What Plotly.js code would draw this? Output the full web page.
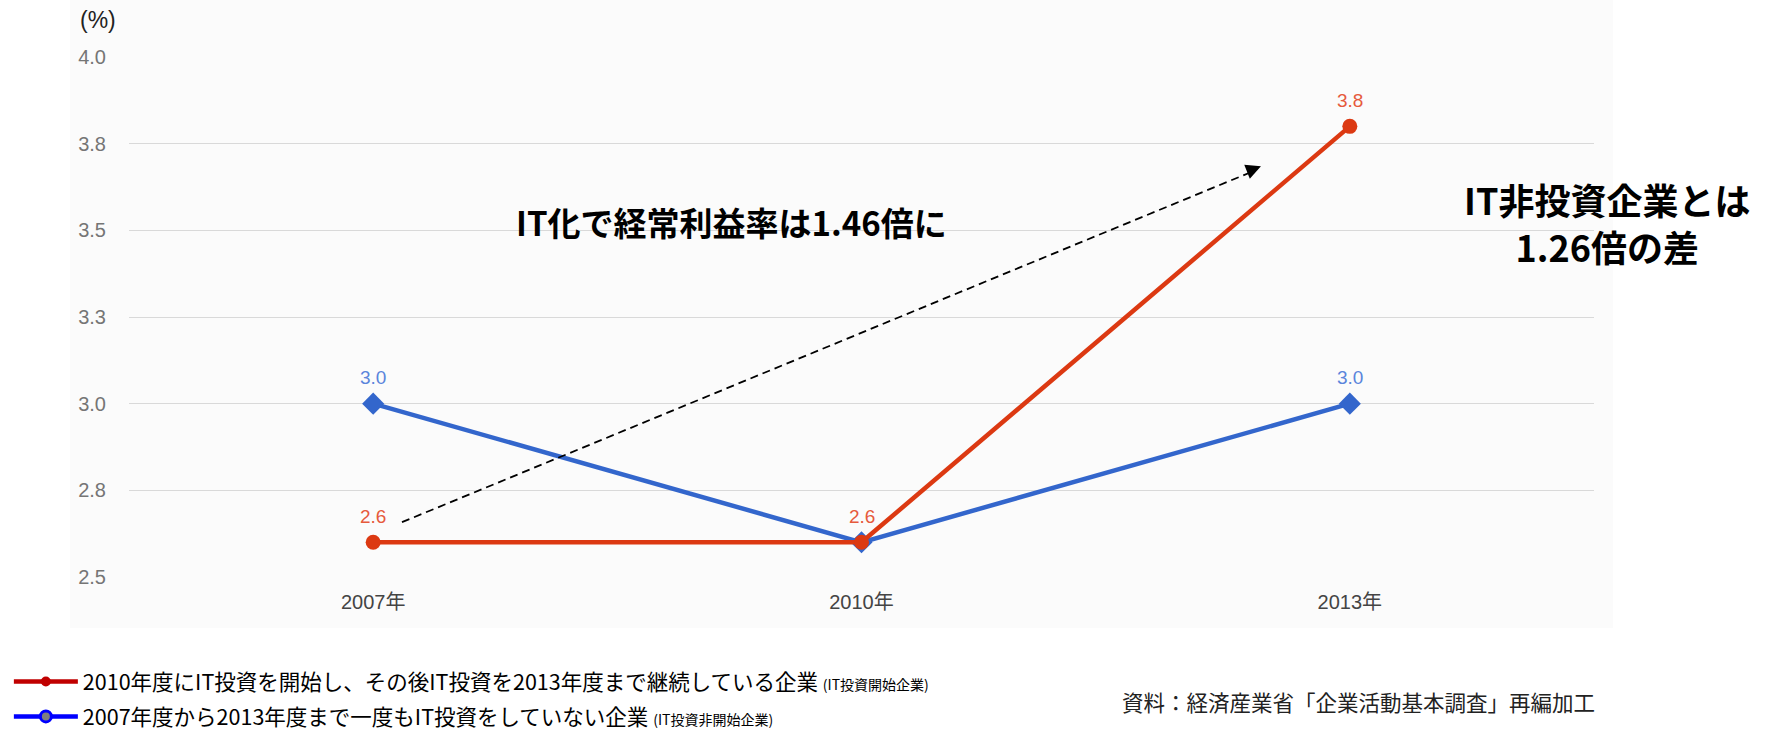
<!DOCTYPE html>
<html>
<head>
<meta charset="utf-8">
<script src="https://cdn.plot.ly/plotly-3.0.1.min.js"></script>
<style>html,body{margin:0;padding:0;background:#fff;}#chart{width:1792px;height:734px;}</style>
</head>
<body>
<div id="chart"></div>
<script>
// ---- data ----
const categories = ['2007年', '2010年', '2013年'];
const itStartValues = [2.6, 2.6, 3.8];      // IT投資開始企業
const nonItValues = [3.0, 2.6, 3.0];        // IT投資非開始企業
const nonItLabelShown = [true, false, true];
const yTickValues = [2.5, 2.75, 3.0, 3.25, 3.5, 3.75, 4.0];
const yTickLabels = ['2.5', '2.8', '3.0', '3.3', '3.5', '3.8', '4.0'];
const itStartName = '2010年度にIT投資を開始し、その後IT投資を2013年度まで継続している企業';
const itStartShort = '(IT投資開始企業)';
const nonItName = '2007年度から2013年度まで一度もIT投資をしていない企業';
const nonItShort = '(IT投資非開始企業)';
const unitLabel = '(%)';
const noteMain = 'IT化で経常利益率は1.46倍に';
const noteRight = 'IT非投資企業とは<br>1.26倍の差';
const sourceText = '資料：経済産業省「企業活動基本調査」再編加工';

const baseFont = 'Liberation Sans, Arial, Noto Sans CJK JP, sans-serif';
const jpFont = 'Noto Sans CJK JP, sans-serif';

const traces = [
  {
    x: categories, y: nonItValues, type: 'scatter', mode: 'lines+markers',
    line: {color: '#3366cc', width: 4.5},
    marker: {symbol: 'diamond', size: 17, color: '#3366cc'},
    cliponaxis: false, showlegend: false, hoverinfo: 'skip'
  },
  {
    x: categories, y: itStartValues, type: 'scatter', mode: 'lines+markers',
    line: {color: '#dc3912', width: 4.5},
    marker: {symbol: 'circle', size: 15, color: '#dc3912'},
    cliponaxis: false, showlegend: false, hoverinfo: 'skip'
  },
  {
    x: [null], y: [null], type: 'scatter', mode: 'lines+markers',
    name: itStartName + ' <span style="font-size:14px">' + itStartShort + '</span>',
    line: {color: '#c00000', width: 4.5},
    marker: {color: '#c00000', size: 10},
    legendgroup: 'a', showlegend: true
  },
  {
    x: [null], y: [null], type: 'scatter', mode: 'lines+markers',
    name: nonItName + ' <span style="font-size:14px">' + nonItShort + '</span>',
    line: {color: '#0000ff', width: 4.5},
    marker: {color: '#808080', size: 11, line: {color: '#0000ff', width: 3}},
    legendgroup: 'b', showlegend: true
  }
];

// value labels placed at the data points through the axes
const valueLabels = [];
nonItValues.forEach((v, i) => {
  if (nonItLabelShown[i]) valueLabels.push({
    x: categories[i], y: v, xref: 'x', yref: 'y', text: v.toFixed(1), showarrow: false,
    yshift: 26, yanchor: 'middle', font: {family: baseFont, size: 19, color: '#5a85db'}
  });
});
itStartValues.forEach((v, i) => {
  valueLabels.push({
    x: categories[i], y: v, xref: 'x', yref: 'y', text: v.toFixed(1), showarrow: false,
    yshift: 26, yanchor: 'middle', font: {family: baseFont, size: 19, color: '#e65a3c'}
  });
});

const layout = {
  width: 1792, height: 734,
  margin: {l: 129, r: 198, t: 57, b: 157, autoexpand: false},
  paper_bgcolor: '#ffffff', plot_bgcolor: 'rgba(0,0,0,0)',
  font: {family: baseFont, color: '#222'},
  xaxis: {
    type: 'category', range: [-0.5, 2.5], showgrid: false, zeroline: false, showline: false,
    ticks: 'outside', ticklen: 7, tickcolor: 'rgba(0,0,0,0)', automargin: false,
    tickfont: {family: baseFont, size: 20, color: '#444'}
  },
  yaxis: {
    range: [2.4999, 4.0001], tickvals: yTickValues, ticktext: yTickLabels,
    showgrid: true, gridcolor: '#d9d9d9', gridwidth: 1, zeroline: false, showline: false,
    ticks: 'outside', ticklen: 18, tickcolor: 'rgba(0,0,0,0)', automargin: false,
    tickfont: {family: baseFont, size: 20, color: '#757575'}
  },
  legend: {
    x: -0.082, xanchor: 'left', y: -0.1615, yanchor: 'top',
    orientation: 'v', traceorder: 'grouped', tracegroupgap: 4,
    font: {family: jpFont, size: 21.5, color: '#000'},
    itemwidth: 64, bgcolor: 'rgba(0,0,0,0)'
  },
  shapes: [
    {type: 'rect', xref: 'paper', yref: 'paper', x0: -0.0403, x1: 1.013, y0: -0.098, y1: 1.11,
     fillcolor: '#fbfbfb', line: {width: 0}, layer: 'below'},
    {type: 'line', xref: 'x', yref: 'y', x0: 0.059, y0: 2.658, x1: 1.796, y1: 3.667,
     line: {color: '#000', width: 1.8, dash: '8px,5px'}}
  ],
  annotations: valueLabels.concat([
    {x: 1.818, y: 3.685, xref: 'x', yref: 'y', text: '', showarrow: true,
     ax: -15, ay: 6, arrowhead: 2, arrowsize: 2, arrowwidth: 1.5, arrowcolor: '#000'},
    {x: -0.0348, y: 1.071, xref: 'paper', yref: 'paper', xanchor: 'left', yanchor: 'middle',
     text: unitLabel, showarrow: false, font: {family: baseFont, size: 23, color: '#222'}},
    {x: 0.4116, y: 0.6827, xref: 'paper', yref: 'paper', xanchor: 'center', yanchor: 'middle',
     text: '<b>' + noteMain + '</b>', showarrow: false, font: {family: jpFont, size: 33, color: '#000'}},
    {x: 1.0089, y: 0.682, xref: 'paper', yref: 'paper', xanchor: 'center', yanchor: 'middle',
     text: '<b>' + noteRight + '</b>', showarrow: false, align: 'center',
     font: {family: jpFont, size: 36, color: '#000'}},
    {x: 1.002, y: -0.240, xref: 'paper', yref: 'paper', xanchor: 'right', yanchor: 'middle',
     text: sourceText, showarrow: false, font: {family: jpFont, size: 21.5, color: '#222'}}
  ])
};

Plotly.newPlot('chart', traces, layout, {displayModeBar: false, staticPlot: true});
</script>
</body>
</html>
